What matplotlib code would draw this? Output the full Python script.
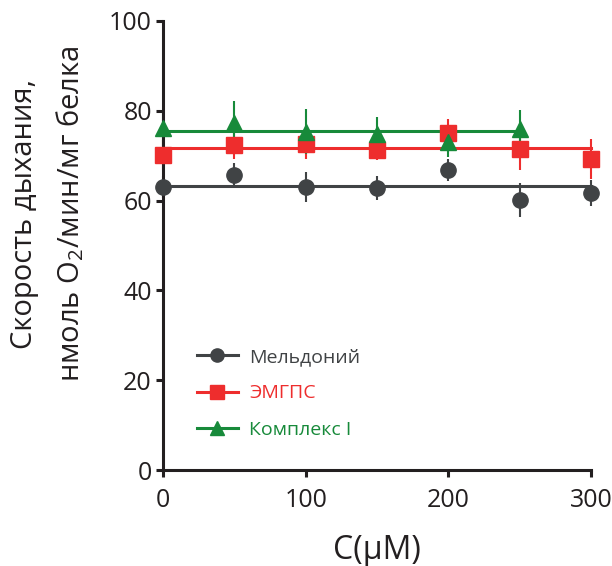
import numpy as np
import matplotlib
matplotlib.use("Agg")
import matplotlib.pyplot as plt

plt.rcParams['font.family'] = ['Open Sans', 'DejaVu Sans']
plt.rcParams['mathtext.default'] = 'regular'

conc = [0, 50, 100, 150, 200, 250, 300]
meld = [63.0, 65.7, 63.0, 62.8, 66.8, 60.1, 61.7]
meld_err = [2.5, 2.7, 3.4, 2.7, 2.4, 3.8, 2.8]
emgps = [70.2, 72.3, 72.5, 71.3, 75.1, 71.6, 69.2]
emgps_err = [3.3, 3.0, 3.3, 2.2, 3.0, 4.7, 4.5]
conc_c1 = [0, 50, 100, 150, 200, 250]
compl = [76.2, 77.2, 75.3, 74.8, 73.1, 75.9]
compl_err = [4.0, 5.0, 5.0, 3.8, 3.5, 4.3]

labels = ['Мельдоний', 'ЭМГПС', 'Комплекс I']
colors = ['#404345', '#EE2D2D', '#178A3A']

fig = plt.figure(figsize=(6.12, 5.66), dpi=100)
ax = fig.add_axes([0.2663, 0.1696, 0.6993, 0.7933])

series = [(conc, meld, meld_err, 'o'), (conc, emgps, emgps_err, 's'), (conc_c1, compl, compl_err, '^')]
handles = []
for (x, y, e, m), c, lab in zip(series, colors, labels):
    ax.errorbar(x, y, yerr=e, fmt='none', ecolor=c, elinewidth=1.5, capsize=0, clip_on=False, zorder=2)
    mean = np.mean(y)
    ax.plot([x[0], x[-1]], [mean, mean], color=c, lw=2.2, clip_on=False, zorder=3)
    ax.plot(x, y, ls='none', marker=m, ms=11, color=c, clip_on=False, zorder=4)
    h, = ax.plot([], [], color=c, lw=2.2, marker=m, ms=9.5, label=lab)
    handles.append(h)

ax.set_xlim(0, 300)
ax.set_ylim(0, 100)
ax.set_xticks([0, 100, 200, 300])
ax.set_yticks([0, 20, 40, 60, 80, 100])
for s in ['top', 'right']:
    ax.spines[s].set_visible(False)
for s in ['left', 'bottom']:
    ax.spines[s].set_linewidth(2.2)
    ax.spines[s].set_color('#231F20')
ax.tick_params(axis='both', width=2.2, length=5, labelsize=18, color='#231F20', labelcolor='#231F20')
ax.tick_params(axis='x', pad=8)
ax.tick_params(axis='y', pad=3)

ax.set_xlabel('C(μM)', fontsize=23, color='#231F20', labelpad=15)
ax.set_ylabel('Скорость дыхания,\nнмоль O$_2$/мин/мг белка', fontsize=21, color='#231F20',
              linespacing=1.6)
ax.yaxis.set_label_coords(-0.18, 0.57)

leg = ax.legend(handles=handles, loc='upper left', bbox_to_anchor=(0.079, 0.272), frameon=False,
                fontsize=14, handlelength=2.1, handletextpad=0.6, labelspacing=0.95,
                borderpad=0, borderaxespad=0)
for t, c in zip(leg.get_texts(), colors):
    t.set_color(c)

fig.savefig('out.png', dpi=100)
